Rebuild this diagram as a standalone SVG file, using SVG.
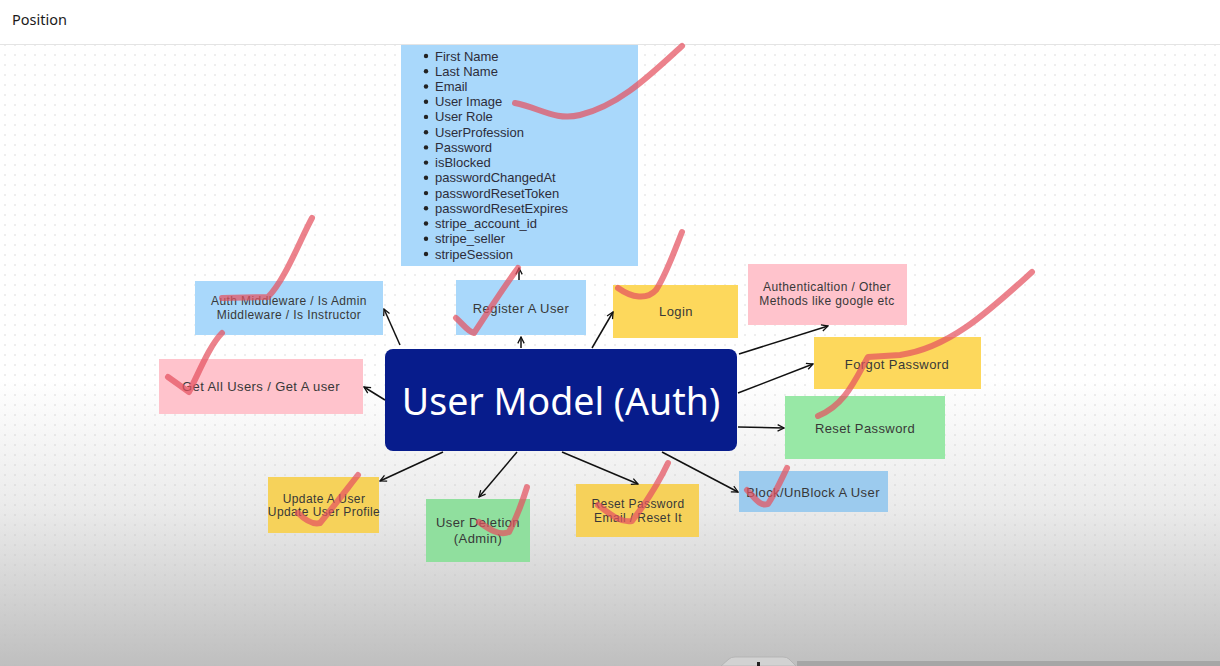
<svg xmlns="http://www.w3.org/2000/svg" width="1220" height="666" viewBox="0 0 1220 666">
<defs>
<linearGradient id="bg" x1="0" y1="0" x2="0" y2="666" gradientUnits="userSpaceOnUse">
<stop offset="0" stop-color="#ffffff"/>
<stop offset="0.57" stop-color="#ffffff"/>
<stop offset="0.76" stop-color="#ebebeb"/>
<stop offset="1" stop-color="#bfbfbf"/>
</linearGradient>
<pattern id="dots" x="0" y="0" width="10" height="10" patternUnits="userSpaceOnUse">
<circle cx="5" cy="5" r="0.7" fill="#bcbcbc"/>
</pattern>
<marker id="arr" viewBox="0 0 10 10" refX="9" refY="5" markerWidth="8" markerHeight="8" orient="auto" markerUnits="userSpaceOnUse">
<path d="M1,1 L9,5 L1,9" fill="none" stroke="#111" stroke-width="1.6"/>
</marker>
<style>
.lbl{font-family:"Liberation Sans",Arial,sans-serif;font-size:13px;letter-spacing:0.4px;fill:#383838;text-anchor:middle;dominant-baseline:central}
.two{font-size:12px}
.li{font-family:"Liberation Sans",Arial,sans-serif;font-size:13px;fill:#2d2d3a;dominant-baseline:central}
.blue{fill:#a9d8fb}
.pink{fill:#ffc3cc}
.yellow{fill:#fdd85c}
.green{fill:#98e8a6}
.conn line{stroke:#111;stroke-width:1.5;marker-end:url(#arr)}
.pen path{fill:none;stroke:#e4525f;stroke-opacity:0.72;stroke-width:6;stroke-linecap:round;stroke-linejoin:round}
</style>
</defs>
<rect width="1220" height="666" fill="url(#bg)"/>
<rect y="45" width="1220" height="621" fill="url(#dots)" opacity="0.7"/>
<rect width="1220" height="44" fill="#ffffff"/>
<line x1="0" y1="44.5" x2="1220" y2="44.5" stroke="#e4e4e4" stroke-width="1"/>
<text x="12" y="19" font-family="Noto Sans, sans-serif" font-size="14.5" fill="#1a1a1a" dominant-baseline="central">Position</text>

<g id="attributes">
<rect class="blue" x="401" y="45" width="237" height="221"/>
<g>
<circle cx="426" cy="56" r="2.2" fill="#222"/><text class="li" x="435" y="56">First Name</text>
<circle cx="426" cy="71.2" r="2.2" fill="#222"/><text class="li" x="435" y="71.2">Last Name</text>
<circle cx="426" cy="86.5" r="2.2" fill="#222"/><text class="li" x="435" y="86.5">Email</text>
<circle cx="426" cy="101.7" r="2.2" fill="#222"/><text class="li" x="435" y="101.7">User Image</text>
<circle cx="426" cy="116.9" r="2.2" fill="#222"/><text class="li" x="435" y="116.9">User Role</text>
<circle cx="426" cy="132.2" r="2.2" fill="#222"/><text class="li" x="435" y="132.2">UserProfession</text>
<circle cx="426" cy="147.4" r="2.2" fill="#222"/><text class="li" x="435" y="147.4">Password</text>
<circle cx="426" cy="162.6" r="2.2" fill="#222"/><text class="li" x="435" y="162.6">isBlocked</text>
<circle cx="426" cy="177.8" r="2.2" fill="#222"/><text class="li" x="435" y="177.8">passwordChangedAt</text>
<circle cx="426" cy="193.1" r="2.2" fill="#222"/><text class="li" x="435" y="193.1">passwordResetToken</text>
<circle cx="426" cy="208.3" r="2.2" fill="#222"/><text class="li" x="435" y="208.3">passwordResetExpires</text>
<circle cx="426" cy="223.5" r="2.2" fill="#222"/><text class="li" x="435" y="223.5">stripe_account_id</text>
<circle cx="426" cy="238.8" r="2.2" fill="#222"/><text class="li" x="435" y="238.8">stripe_seller</text>
<circle cx="426" cy="254" r="2.2" fill="#222"/><text class="li" x="435" y="254">stripeSession</text>
</g>
</g>

<g id="auth-middleware">
<rect class="blue" x="195" y="281" width="188" height="54"/>
<text class="lbl two" x="289" y="301">Auth Middleware / Is Admin</text>
<text class="lbl two" x="289" y="315">Middleware / Is Instructor</text>
</g>
<g id="get-users">
<rect class="pink" x="159" y="359" width="204" height="55"/>
<text class="lbl" x="261" y="386">Get All Users / Get A user</text>
</g>
<g id="register">
<rect class="blue" x="456" y="280" width="130" height="55"/>
<text class="lbl" x="521" y="308" font-size="13.5">Register A User</text>
</g>
<g id="login">
<rect class="yellow" x="613" y="285" width="125" height="53"/>
<text class="lbl" x="676" y="311">Login</text>
</g>
<g id="authentication">
<rect class="pink" x="748" y="264" width="159" height="61"/>
<text class="lbl two" x="827" y="287">Authenticaltion / Other</text>
<text class="lbl two" x="827" y="301">Methods like google etc</text>
</g>
<g id="forgot-password">
<rect class="yellow" x="814" y="337" width="167" height="52"/>
<text class="lbl" x="897" y="364" font-size="13.5">Forgot Password</text>
</g>
<g id="reset-password">
<rect class="green" x="785" y="396" width="160" height="63"/>
<text class="lbl" x="865" y="428" font-size="14.5">Reset Password</text>
</g>
<g id="block-user">
<rect x="739" y="471" width="149" height="41" fill="#9ccbee"/>
<text class="lbl" x="813" y="492" font-size="13.5">Block/UnBlock A User</text>
</g>
<g id="reset-password-email">
<rect x="576" y="484" width="123" height="53" fill="#f6d15a"/>
<text class="lbl two" x="638" y="504">Reset Password</text>
<text class="lbl two" x="638" y="518">Email / Reset It</text>
</g>
<g id="user-deletion">
<rect x="426" y="499" width="104" height="63" fill="#90df9e"/>
<text class="lbl" x="478" y="522" font-size="13.5">User Deletion</text>
<text class="lbl" x="478" y="538" font-size="13.5">(Admin)</text>
</g>
<g id="update-user">
<rect x="268" y="477" width="111" height="56" fill="#f6d25a"/>
<text class="lbl two" x="324" y="499">Update A User</text>
<text class="lbl two" x="324" y="512">Update User Profile</text>
</g>

<g id="user-model">
<rect x="385" y="349" width="352" height="102" rx="8" fill="#071c8c"/>
<text x="561" y="400" font-family="Noto Sans, sans-serif" font-size="37.5" fill="#ffffff" text-anchor="middle" dominant-baseline="central">User Model (Auth)</text>
</g>

<g id="connectors" class="conn">
<line x1="521" y1="348" x2="521" y2="337"/>
<line x1="519" y1="280" x2="519" y2="268"/>
<line x1="400" y1="345" x2="384" y2="309"/>
<line x1="385" y1="400" x2="364" y2="387"/>
<line x1="592" y1="348" x2="613" y2="312"/>
<line x1="739" y1="354" x2="828" y2="326"/>
<line x1="738" y1="393" x2="813" y2="364"/>
<line x1="738" y1="427" x2="784" y2="428"/>
<line x1="662" y1="452" x2="738" y2="492"/>
<line x1="562" y1="452" x2="638" y2="484"/>
<line x1="517" y1="452" x2="479" y2="497"/>
<line x1="443" y1="452" x2="380" y2="481"/>
</g>

<g id="pen-marks" class="pen">
<path d="M515,103 C540,108 555,121 580,115 C620,105 650,75 682,46"/>
<path d="M456,318 C463,324 468,332 474,333 C488,312 503,288 518,268"/>
<path d="M618,288 C632,298 647,300 656,290 C666,275 674,252 682,232"/>
<path d="M222,298 L268,297 C285,280 300,240 312,218"/>
<path d="M168,377 L189,392 C200,370 210,345 222,333"/>
<path d="M1032,272 C990,310 950,348 900,355 L868,357 C855,380 845,405 818,416"/>
<path d="M298,513 C305,520 312,525 320,523 C335,505 350,485 358,475"/>
<path d="M479,522 C490,530 500,536 509,532 C518,515 523,500 527,487"/>
<path d="M598,505 C610,514 620,523 632,521 C648,500 660,480 668,463"/>
<path d="M747,490 C755,498 760,507 768,504 C777,490 782,478 787,468"/>
</g>

<g id="bottom-bar">
<path d="M721,666 L729,659 Q731,657 735,657 L783,657 Q787,657 789,659 L796,666 Z" fill="#d2d2d2" stroke="#b0b0b0" stroke-width="0.8"/>
<rect x="757" y="662" width="3" height="4" fill="#222"/>
<rect x="797" y="661" width="423" height="5" fill="#a6a6a6"/>
</g>
</svg>
